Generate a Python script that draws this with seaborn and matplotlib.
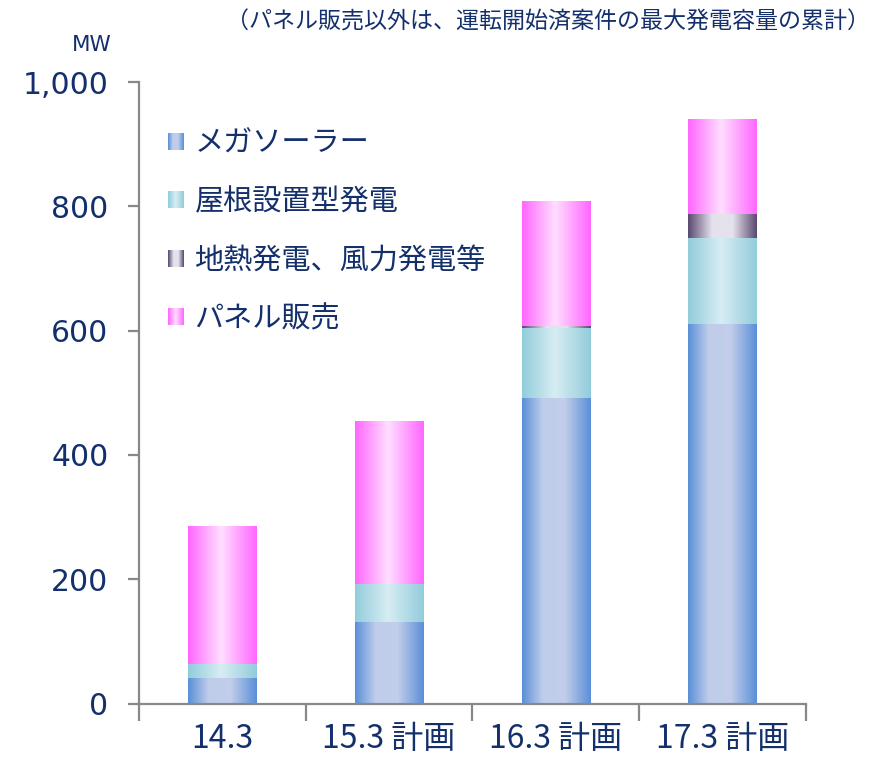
import numpy as np
import pandas as pd
import matplotlib
matplotlib.use("Agg")
import matplotlib.pyplot as plt
import seaborn as sns
from matplotlib.colors import LinearSegmentedColormap
from matplotlib.legend_handler import HandlerBase
from matplotlib.image import BboxImage
from matplotlib.patches import Patch
from matplotlib.transforms import Bbox, TransformedBbox

# data (MW)
periods = ["14.3", "15.3 計画", "16.3 計画", "17.3 計画"]
series = ["メガソーラー", "屋根設置型発電", "地熱発電、風力発電等", "パネル販売"]
mega_solar = [41, 131, 492, 611]
rooftop = [23, 62, 112, 138]
geo_wind = [0, 0, 3, 39]
panel_sales = [221, 262, 202, 152]
y_ticks = [0, 200, 400, 600, 800, 1000]

NAVY = "#14306C"
AXIS_GRAY = "#888888"

# horizontal gradients: dark edges, light middle
grad_stops = {
    "メガソーラー": [(0.0, "#5A8FD8"), (0.3, "#BFCDEB"), (0.62, "#C2CEEA"), (1.0, "#5A8FD8")],
    "屋根設置型発電": [(0.0, "#92CCDB"), (0.48, "#D8EDF3"), (1.0, "#92CCDB")],
    "地熱発電、風力発電等": [(0.0, "#5A4870"), (0.35, "#E4E2EC"), (0.65, "#E4E2EC"), (1.0, "#5A4870")],
    "パネル販売": [(0.0, "#FF66FF"), (0.48, "#FFDEFF"), (1.0, "#FF66FF")],
}
cmaps = {k: LinearSegmentedColormap.from_list(k, v) for k, v in grad_stops.items()}

sns.set_theme(style="white")
plt.rcParams["font.family"] = ["Noto Sans CJK JP", "DejaVu Sans"]
plt.rcParams["axes.unicode_minus"] = False


class GradientHandler(HandlerBase):
    def __init__(self, cmap):
        super().__init__()
        self.cmap = cmap

    def create_artists(self, legend, orig_handle, xdescent, ydescent,
                       width, height, fontsize, trans):
        bb = TransformedBbox(Bbox.from_bounds(-xdescent, -ydescent, width, height), trans)
        img = BboxImage(bb, cmap=self.cmap, interpolation="bilinear")
        img.set_data(np.linspace(0, 1, 64).reshape(1, -1))
        return [img]


fig = plt.figure(figsize=(8.74, 7.71), dpi=100)
ax = fig.add_axes([0.159, 0.0875, 0.763, 0.806])

# stacked bars by overdrawing cumulative totals, top layer first
layers = [mega_solar, rooftop, geo_wind, panel_sales]
cum = np.cumsum(np.array(layers), axis=0)
grad = np.linspace(0, 1, 256).reshape(1, -1)
for i in reversed(range(len(series))):
    df = pd.DataFrame({"period": periods, "MW": cum[i]})
    n_before = len(ax.patches)
    sns.barplot(data=df, x="period", y="MW", order=periods, width=0.41,
                color="white", linewidth=0, ax=ax, zorder=2 + (3 - i) * 2)
    for p in ax.patches[n_before:]:
        x0, y0 = p.get_x(), p.get_y()
        w, h = p.get_width(), p.get_height()
        if h <= 0:
            continue
        im = ax.imshow(grad, cmap=cmaps[series[i]], aspect="auto",
                       extent=[x0, x0 + w, y0, y0 + h], interpolation="bilinear",
                       zorder=3 + (3 - i) * 2)
        im.set_clip_path(p)

ax.set_xlim(-0.5, len(periods) - 0.5)
ax.set_ylim(0, 1000)
ax.set_xlabel("")
ax.set_ylabel("")

for s in ["top", "right"]:
    ax.spines[s].set_visible(False)
for s in ["left", "bottom"]:
    ax.spines[s].set_color(AXIS_GRAY)
    ax.spines[s].set_linewidth(1.6)
    ax.spines[s].set_zorder(20)

ax.set_yticks(y_ticks)
ax.set_yticklabels([f"{v:,}" for v in y_ticks], family="DejaVu Sans",
                   fontsize=21.5, color=NAVY)
ax.tick_params(axis="y", length=8, width=1.6, color=AXIS_GRAY, pad=14, left=True)

ax.set_xticks(range(len(periods)))
ax.set_xticklabels(periods, fontsize=23, color=NAVY)
ax.set_xticks(np.arange(-0.5, len(periods)), minor=True)
ax.tick_params(axis="x", which="major", length=0, pad=14)
ax.tick_params(axis="x", which="minor", length=12, width=1.6, color=AXIS_GRAY,
               bottom=True, direction="out")

handles = [Patch(label=s) for s in series]
leg = ax.legend(handles=handles, labels=series,
                handler_map={h: GradientHandler(cmaps[s]) for h, s in zip(handles, series)},
                loc="upper left", bbox_to_anchor=(0.043, 0.925), frameon=False,
                fontsize=21, handlelength=0.52, handleheight=0.5,
                handletextpad=0.4, labelspacing=0.98, borderpad=0, borderaxespad=0)
for t in leg.get_texts():
    t.set_color(NAVY)

fig.text(0.105, 0.941, "MW", ha="center", va="center", fontsize=15.5, color=NAVY,
         family="DejaVu Sans")
fig.text(0.995, 0.971, "（パネル販売以外は、運転開始済案件の最大発電容量の累計）",
         ha="right", va="center", fontsize=16.6, color=NAVY)

fig.savefig("out.png", dpi=100)
